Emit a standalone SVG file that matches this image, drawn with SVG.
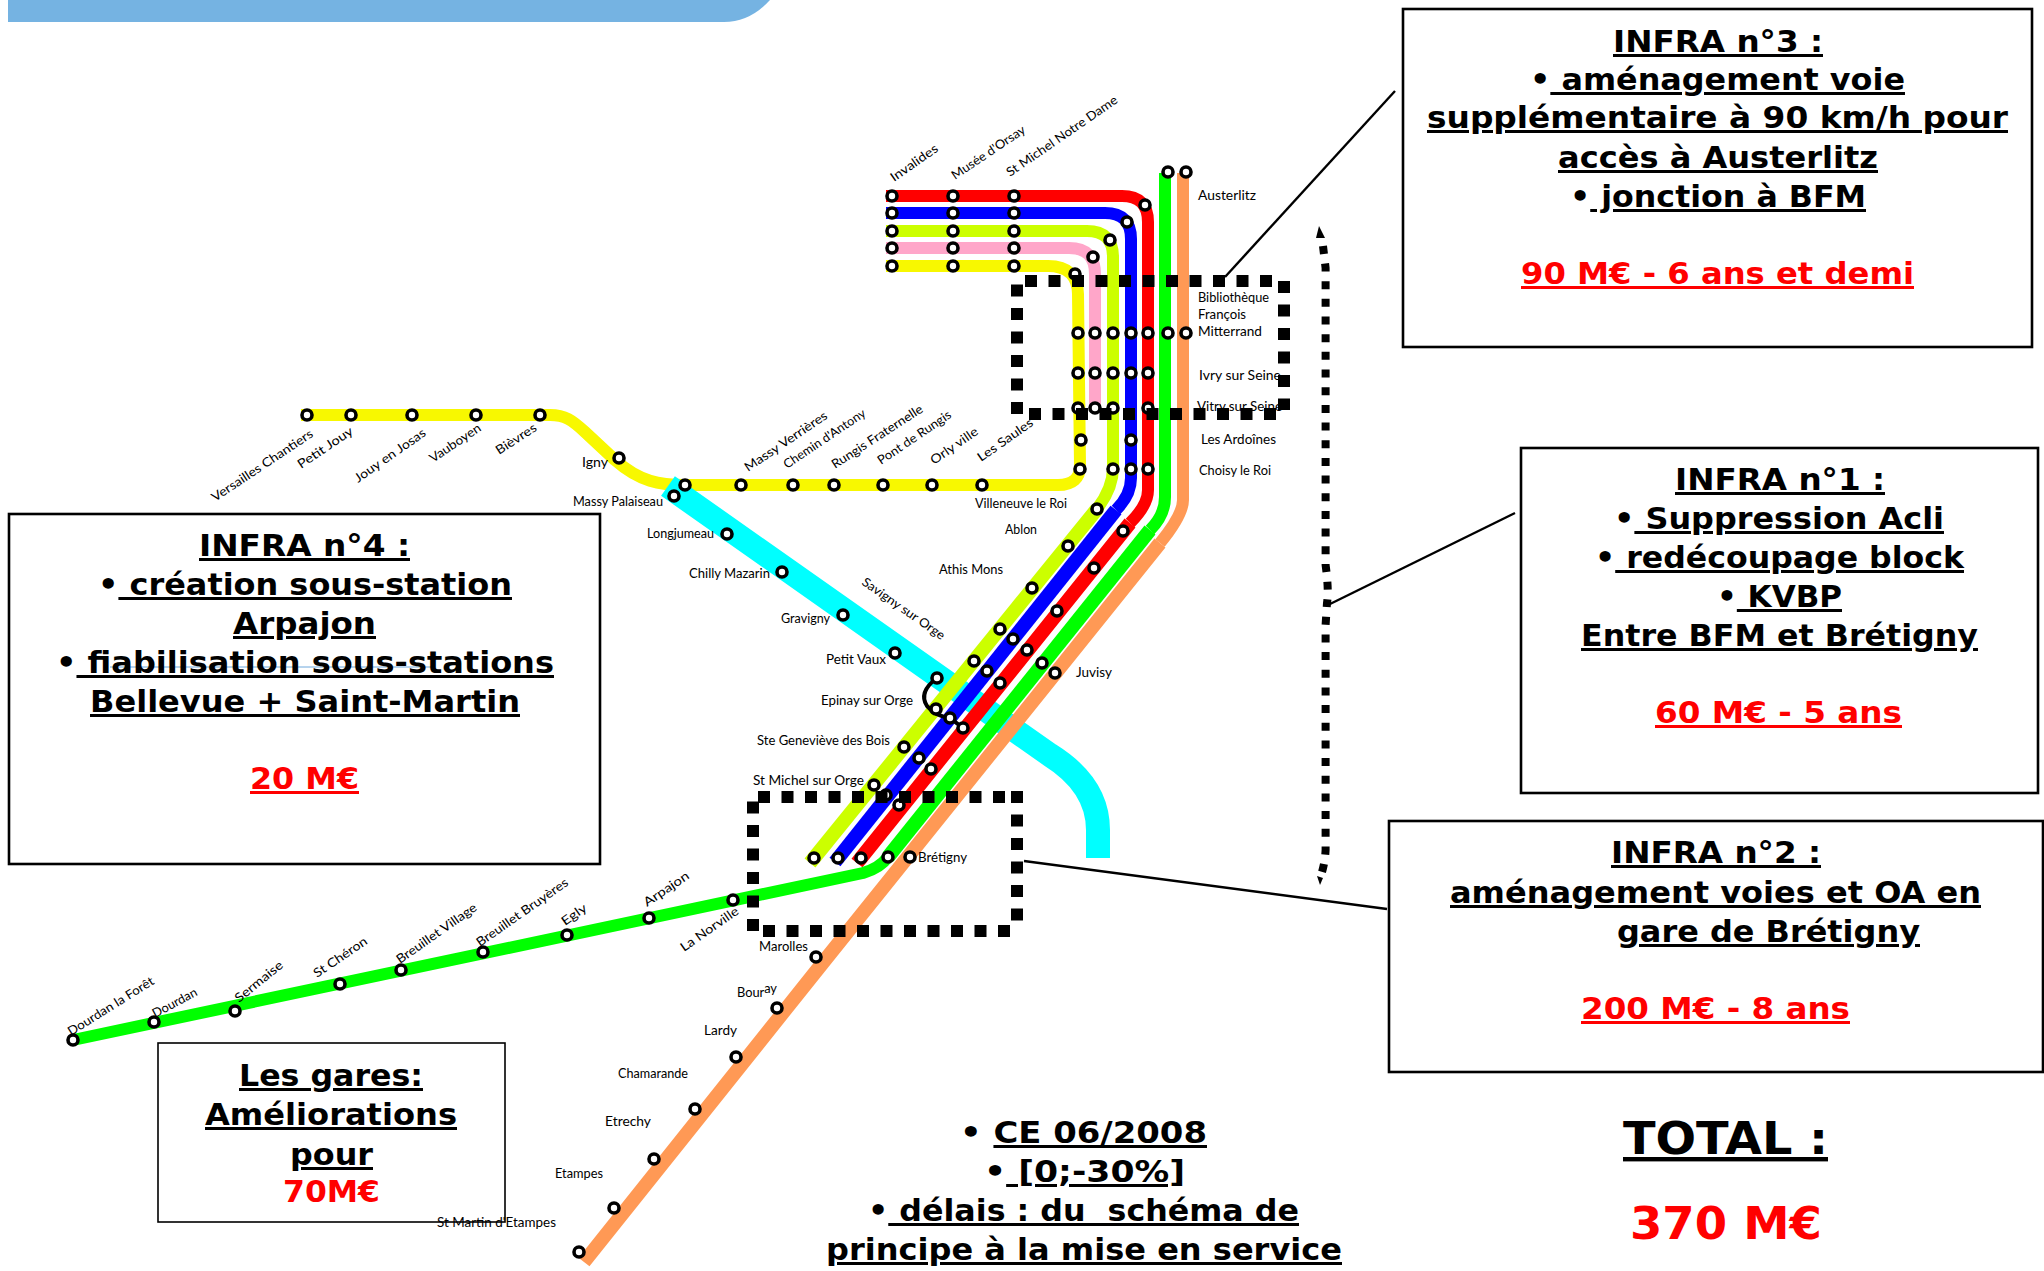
<svg xmlns="http://www.w3.org/2000/svg" width="2044" height="1271" viewBox="0 0 2044 1271">
<style>
.ln{fill:none;stroke-width:12;stroke-linejoin:round}
.dg{fill:none;stroke-width:14}
.dash{fill:none;stroke:#000;stroke-width:12;stroke-dasharray:12 11.5}
.lead{fill:none;stroke:#000;stroke-width:2.4}
.box{fill:none;stroke:#000;stroke-width:2.6}
.st{fill:#fff;stroke:#000;stroke-width:3.6}
.lab{font-family:"Lato","Open Sans",sans-serif;font-size:12.5px;fill:#000}
.t{font-family:"DejaVu Sans","Liberation Sans",sans-serif;font-weight:bold;font-size:30px;fill:#000;white-space:pre}
.r{fill:#f00}
.big{font-size:44px}
.u{text-decoration:underline}
</style>
<rect width="2044" height="1271" fill="#fff"/>
<path id="banner" d="M8,0H770Q750,22 724,22H8Z" fill="#75b3e2"/>

<g id="connectors">
<path class="ln" stroke="#f8f800" d="M301,415L550,415C565,415 572,420 585,432L615,460C640,482 660,485 685,485L1058,485C1073,485 1080,478 1080,466L1078,294C1078,276 1068,266 1048,266L886,266"/>
<path class="ln" stroke="#ffa6c9" d="M886,248L1069,248Q1095,248 1095,274L1095,405"/>
<path id="line-cyan" fill="none" stroke="#0ff" stroke-width="24" d="M668,486L1050,755Q1098,785 1098,830L1098,858"/>
<path class="ln" stroke="#ccff00" d="M886,231L1087,231Q1113,231 1113,257L1113,468Q1113,488 1097,509"/>
<path class="dg" stroke="#ccff00" d="M1097,509L810,863"/>
<path class="ln" stroke="#00f" d="M886,213L1105,213Q1131,213 1131,239L1131,478Q1131,495 1116,510"/>
<path class="dg" stroke="#00f" d="M1116,510L835,862"/>
<path class="ln" stroke="#f00" d="M886,196L1122,196Q1148,196 1148,222L1148,490Q1148,505 1130,523"/>
<path class="dg" stroke="#f00" d="M1130,523L861,858L857,863"/>
<path class="ln" stroke="#0f0" d="M1165,173L1165,497Q1165,515 1150,530"/>
<path class="dg" stroke="#0f0" d="M1150,530L888,857"/>
<path class="ln" stroke="#0f0" d="M888,857Q880,868 863,873L73,1040"/>
<path class="ln" stroke="#ff9955" d="M1183,173L1183,500Q1183,515 1160,543"/>
<path class="dg" stroke="#ff9955" d="M1160,543L825,960L584,1262"/>
<path fill="none" stroke="#000" stroke-width="4" d="M937,678Q918,692 927,706Q935,716 950,718L963,728"/>
<path class="lead" d="M1225,277L1395,91"/>
<path class="lead" d="M1515,513L1328,605"/>
<path class="lead" d="M1024,861L1387,909"/>
</g>

<g id="stations">
<g id="st-invalides"><circle class="st" cx="892" cy="196" r="5"/><circle class="st" cx="892" cy="213" r="5"/><circle class="st" cx="892" cy="231" r="5"/><circle class="st" cx="892" cy="248" r="5"/><circle class="st" cx="892" cy="266" r="5"/><text class="lab" transform="translate(894,182) rotate(-35)" textLength="55" lengthAdjust="spacingAndGlyphs">Invalides</text></g>
<g id="st-orsay"><circle class="st" cx="953" cy="196" r="5"/><circle class="st" cx="953" cy="213" r="5"/><circle class="st" cx="953" cy="231" r="5"/><circle class="st" cx="953" cy="248" r="5"/><circle class="st" cx="953" cy="266" r="5"/><text class="lab" transform="translate(955,180) rotate(-34)" textLength="86" lengthAdjust="spacingAndGlyphs">Musée d'Orsay</text></g>
<g id="st-stmichel"><circle class="st" cx="1014" cy="196" r="5"/><circle class="st" cx="1014" cy="213" r="5"/><circle class="st" cx="1014" cy="231" r="5"/><circle class="st" cx="1014" cy="248" r="5"/><circle class="st" cx="1014" cy="266" r="5"/><text class="lab" transform="translate(1010,177) rotate(-34.6)" textLength="132" lengthAdjust="spacingAndGlyphs">St Michel Notre Dame</text></g>
<g id="st-corners"><circle class="st" cx="1145" cy="205" r="5"/><circle class="st" cx="1127" cy="222" r="5"/><circle class="st" cx="1110" cy="240" r="5"/><circle class="st" cx="1093" cy="257" r="5"/><circle class="st" cx="1075" cy="274" r="5"/></g>
<g id="st-austerlitz"><circle class="st" cx="1168" cy="172" r="5"/><circle class="st" cx="1186" cy="172" r="5"/><text class="lab" x="1198" y="200" textLength="58" lengthAdjust="spacingAndGlyphs">Austerlitz</text></g>
<g id="st-bfm"><circle class="st" cx="1078" cy="333" r="5"/><circle class="st" cx="1095" cy="333" r="5"/><circle class="st" cx="1113" cy="333" r="5"/><circle class="st" cx="1131" cy="333" r="5"/><circle class="st" cx="1148" cy="333" r="5"/><circle class="st" cx="1168" cy="333" r="5"/><circle class="st" cx="1186" cy="333" r="5"/><text class="lab" x="1198" y="302" textLength="71" lengthAdjust="spacingAndGlyphs">Bibliothèque</text><text class="lab" x="1198" y="319" textLength="48" lengthAdjust="spacingAndGlyphs">François</text><text class="lab" x="1198" y="336" textLength="64" lengthAdjust="spacingAndGlyphs">Mitterrand</text></g>
<g id="st-ivry"><circle class="st" cx="1078" cy="373" r="5"/><circle class="st" cx="1095" cy="373" r="5"/><circle class="st" cx="1113" cy="373" r="5"/><circle class="st" cx="1131" cy="373" r="5"/><circle class="st" cx="1148" cy="373" r="5"/><text class="lab" x="1199" y="380" textLength="82" lengthAdjust="spacingAndGlyphs">Ivry sur Seine</text></g>
<g id="st-vitry"><circle class="st" cx="1078" cy="408" r="5"/><circle class="st" cx="1095" cy="408" r="5"/><circle class="st" cx="1113" cy="408" r="5"/><circle class="st" cx="1148" cy="408" r="5"/><text class="lab" x="1197" y="411" textLength="85" lengthAdjust="spacingAndGlyphs">Vitry sur Seine</text></g>
<g id="st-ardoines"><circle class="st" cx="1081" cy="440" r="5"/><circle class="st" cx="1131" cy="440" r="5"/><text class="lab" x="1201" y="444" textLength="75" lengthAdjust="spacingAndGlyphs">Les Ardoînes</text></g>
<g id="st-choisy"><circle class="st" cx="1080" cy="469" r="5"/><circle class="st" cx="1113" cy="469" r="5"/><circle class="st" cx="1131" cy="469" r="5"/><circle class="st" cx="1148" cy="469" r="5"/><text class="lab" x="1199" y="475" textLength="72" lengthAdjust="spacingAndGlyphs">Choisy le Roi</text></g>
<g id="st-saules"><circle class="st" cx="982" cy="485" r="5"/><text class="lab" transform="translate(981,462) rotate(-35)" textLength="65" lengthAdjust="spacingAndGlyphs">Les Saules</text></g>
<g id="st-orly"><circle class="st" cx="932" cy="485" r="5"/><text class="lab" transform="translate(934,465) rotate(-35)" textLength="55" lengthAdjust="spacingAndGlyphs">Orly ville</text></g>
<g id="st-rungis"><circle class="st" cx="883" cy="485" r="5"/><text class="lab" transform="translate(881,465) rotate(-34)" textLength="86" lengthAdjust="spacingAndGlyphs">Pont de Rungis</text></g>
<g id="st-fraternelle"><circle class="st" cx="834" cy="485" r="5"/><text class="lab" transform="translate(835,469) rotate(-33)" textLength="106" lengthAdjust="spacingAndGlyphs">Rungis Fraternelle</text></g>
<g id="st-antony"><circle class="st" cx="793" cy="485" r="5"/><text class="lab" transform="translate(787,469) rotate(-34)" textLength="96" lengthAdjust="spacingAndGlyphs">Chemin d'Antony</text></g>
<g id="st-verrieres"><circle class="st" cx="741" cy="485" r="5"/><text class="lab" transform="translate(748,472) rotate(-34)" textLength="97" lengthAdjust="spacingAndGlyphs">Massy Verrières</text></g>
<g id="st-massy"><circle class="st" cx="685" cy="485" r="5"/><circle class="st" cx="674" cy="496" r="5"/><text class="lab" x="573" y="506" textLength="90" lengthAdjust="spacingAndGlyphs">Massy Palaiseau</text></g>
<g id="st-igny"><circle class="st" cx="619" cy="458" r="5"/><text class="lab" x="582" y="467" textLength="26" lengthAdjust="spacingAndGlyphs">Igny</text></g>
<g id="st-versailles"><circle class="st" cx="307" cy="415" r="5"/><text class="lab" transform="translate(215,502) rotate(-33.7)" textLength="119" lengthAdjust="spacingAndGlyphs">Versailles Chantiers</text></g>
<g id="st-petitjouy"><circle class="st" cx="351" cy="415" r="5"/><text class="lab" transform="translate(301,469) rotate(-34)" textLength="64" lengthAdjust="spacingAndGlyphs">Petit Jouy</text></g>
<g id="st-jouy"><circle class="st" cx="412" cy="415" r="5"/><text class="lab" transform="translate(358,483) rotate(-35)" textLength="84" lengthAdjust="spacingAndGlyphs">Jouy en Josas</text></g>
<g id="st-vauboyen"><circle class="st" cx="476" cy="415" r="5"/><text class="lab" transform="translate(433,463) rotate(-34)" textLength="59" lengthAdjust="spacingAndGlyphs">Vauboyen</text></g>
<g id="st-bievres"><circle class="st" cx="540" cy="415" r="5"/><text class="lab" transform="translate(499,455) rotate(-33)" textLength="46" lengthAdjust="spacingAndGlyphs">Bièvres</text></g>
<g id="st-longjumeau"><circle class="st" cx="727" cy="534" r="5"/><text class="lab" x="647" y="538" textLength="67" lengthAdjust="spacingAndGlyphs">Longjumeau</text></g>
<g id="st-chilly"><circle class="st" cx="782" cy="572" r="5"/><text class="lab" x="689" y="578" textLength="81" lengthAdjust="spacingAndGlyphs">Chilly Mazarin</text></g>
<g id="st-gravigny"><circle class="st" cx="843" cy="615" r="5"/><text class="lab" x="781" y="623" textLength="49" lengthAdjust="spacingAndGlyphs">Gravigny</text></g>
<g id="st-petitvaux"><circle class="st" cx="895" cy="653" r="5"/><text class="lab" x="826" y="664" textLength="60" lengthAdjust="spacingAndGlyphs">Petit Vaux</text></g>
<g id="st-savigny"><circle class="st" cx="937" cy="678" r="5"/><text class="lab" transform="translate(861,584) rotate(35)" textLength="98" lengthAdjust="spacingAndGlyphs">Savigny sur Orge</text></g>
<g id="st-villeneuve"><circle class="st" cx="1097" cy="509" r="5"/><text class="lab" x="975" y="508" textLength="92" lengthAdjust="spacingAndGlyphs">Villeneuve le Roi</text></g>
<g id="st-ablon"><circle class="st" cx="1068" cy="546" r="5"/><circle class="st" cx="1123" cy="531" r="5"/><text class="lab" x="1005" y="534" textLength="32" lengthAdjust="spacingAndGlyphs">Ablon</text></g>
<g id="st-athis"><circle class="st" cx="1032" cy="588" r="5"/><circle class="st" cx="1094" cy="568" r="5"/><text class="lab" x="939" y="574" textLength="64" lengthAdjust="spacingAndGlyphs">Athis Mons</text></g>
<g id="st-juvisy"><circle class="st" cx="1000" cy="629" r="5"/><circle class="st" cx="974" cy="661" r="5"/><circle class="st" cx="1013" cy="639" r="5"/><circle class="st" cx="987" cy="671" r="5"/><circle class="st" cx="1057" cy="611" r="5"/><circle class="st" cx="1027" cy="650" r="5"/><circle class="st" cx="1000" cy="683" r="5"/><circle class="st" cx="1042" cy="663" r="5"/><circle class="st" cx="1055" cy="673" r="5"/><text class="lab" x="1076" y="677" textLength="36" lengthAdjust="spacingAndGlyphs">Juvisy</text></g>
<g id="st-epinay"><circle class="st" cx="936" cy="709" r="5"/><circle class="st" cx="950" cy="718" r="5"/><circle class="st" cx="963" cy="728" r="5"/><text class="lab" x="821" y="705" textLength="92" lengthAdjust="spacingAndGlyphs">Epinay sur Orge</text></g>
<g id="st-genevieve"><circle class="st" cx="904" cy="747" r="5"/><circle class="st" cx="919" cy="758" r="5"/><circle class="st" cx="931" cy="769" r="5"/><text class="lab" x="757" y="745" textLength="133" lengthAdjust="spacingAndGlyphs">Ste Geneviève des Bois</text></g>
<g id="st-stmichelorge"><circle class="st" cx="874" cy="785" r="5"/><circle class="st" cx="886" cy="795" r="5"/><circle class="st" cx="899" cy="805" r="5"/><text class="lab" x="753" y="785" textLength="111" lengthAdjust="spacingAndGlyphs">St Michel sur Orge</text></g>
<g id="st-bretigny"><circle class="st" cx="814" cy="858" r="5"/><circle class="st" cx="838" cy="858" r="5"/><circle class="st" cx="861" cy="858" r="5"/><circle class="st" cx="888" cy="857" r="5"/><circle class="st" cx="910" cy="857" r="5"/><text class="lab" x="918" y="862" textLength="49" lengthAdjust="spacingAndGlyphs">Brétigny</text></g>
<g id="st-marolles"><circle class="st" cx="816" cy="957" r="5"/><text class="lab" x="759" y="951" textLength="49" lengthAdjust="spacingAndGlyphs">Marolles</text></g>
<g id="st-bouray"><circle class="st" cx="777" cy="1008" r="5"/><text class="lab" x="737" y="997" textLength="40" lengthAdjust="spacingAndGlyphs">Bour<tspan dy="-4">ay</tspan></text></g>
<g id="st-lardy"><circle class="st" cx="736" cy="1057" r="5"/><text class="lab" x="704" y="1035" textLength="33" lengthAdjust="spacingAndGlyphs">Lardy</text></g>
<g id="st-chamarande"><circle class="st" cx="695" cy="1109" r="5"/><text class="lab" x="618" y="1078" textLength="70" lengthAdjust="spacingAndGlyphs">Chamarande</text></g>
<g id="st-etrechy"><circle class="st" cx="654" cy="1159" r="5"/><text class="lab" x="605" y="1126" textLength="46" lengthAdjust="spacingAndGlyphs">Etrechy</text></g>
<g id="st-etampes"><circle class="st" cx="614" cy="1208" r="5"/><text class="lab" x="555" y="1178" textLength="48" lengthAdjust="spacingAndGlyphs">Etampes</text></g>
<g id="st-stmartin"><circle class="st" cx="579" cy="1252" r="5"/><text class="lab" x="437" y="1227" textLength="119" lengthAdjust="spacingAndGlyphs">St Martin d'Etampes</text></g>
<g id="st-dourdanforet"><circle class="st" cx="73" cy="1040" r="5"/><text class="lab" transform="translate(71,1036) rotate(-32)" textLength="99" lengthAdjust="spacingAndGlyphs">Dourdan la Forêt</text></g>
<g id="st-dourdan"><circle class="st" cx="154" cy="1022" r="5"/><text class="lab" transform="translate(155,1018) rotate(-28)" textLength="49" lengthAdjust="spacingAndGlyphs">Dourdan</text></g>
<g id="st-sermaise"><circle class="st" cx="235" cy="1011" r="5"/><text class="lab" transform="translate(239,1003) rotate(-39)" textLength="58" lengthAdjust="spacingAndGlyphs">Sermaise</text></g>
<g id="st-cheron"><circle class="st" cx="340" cy="984" r="5"/><text class="lab" transform="translate(317,978) rotate(-34)" textLength="62" lengthAdjust="spacingAndGlyphs">St Chéron</text></g>
<g id="st-village"><circle class="st" cx="401" cy="970" r="5"/><text class="lab" transform="translate(400,964) rotate(-35)" textLength="95" lengthAdjust="spacingAndGlyphs">Breuillet Village</text></g>
<g id="st-bruyeres"><circle class="st" cx="483" cy="952" r="5"/><text class="lab" transform="translate(480,947) rotate(-35)" textLength="109" lengthAdjust="spacingAndGlyphs">Breuillet Bruyères</text></g>
<g id="st-egly"><circle class="st" cx="567" cy="935" r="5"/><text class="lab" transform="translate(565,926) rotate(-35)" textLength="28" lengthAdjust="spacingAndGlyphs">Egly</text></g>
<g id="st-arpajon"><circle class="st" cx="649" cy="918" r="5"/><text class="lab" transform="translate(647,907) rotate(-34)" textLength="52" lengthAdjust="spacingAndGlyphs">Arpajon</text></g>
<g id="st-norville"><circle class="st" cx="733" cy="900" r="5"/><text class="lab" transform="translate(684,952) rotate(-35)" textLength="68" lengthAdjust="spacingAndGlyphs">La Norville</text></g>
</g>

<g id="zone-bfm"><path class="dash" d="M1025,281H1272"/><path class="dash" d="M1017,414V284"/><path class="dash" d="M1284,281V410"/><path class="dash" d="M1029,414H1276"/></g>
<g id="zone-bretigny"><path class="dash" d="M758,797H1005"/><path class="dash" d="M1017,791V927"/><path class="dash" d="M753,931V795"/><path class="dash" d="M763,931H1010"/></g>
<g id="brace"><path fill="none" stroke="#000" stroke-width="8" stroke-dasharray="8 9.67" d="M1323,246L1325.6,268L1325.6,565Q1329,590 1327,603L1325.6,625L1325.6,850Q1325,862 1322,872"/><path d="M1319,226L1325,238L1316,238Z"/><path d="M1317,876L1323,878L1320,885Z"/></g>

<g id="infra3"><rect class="box" x="1403" y="9" width="629" height="338"/>
<text class="t" x="1613" y="52" textLength="210" lengthAdjust="spacingAndGlyphs"><tspan class="u">INFRA n°3 :</tspan></text>
<text class="t" x="1530" y="90" textLength="375" lengthAdjust="spacingAndGlyphs">•<tspan class="u"> aménagement voie</tspan></text>
<text class="t" x="1427" y="128" textLength="581" lengthAdjust="spacingAndGlyphs"><tspan class="u">supplémentaire à 90 km/h pour</tspan></text>
<text class="t" x="1558" y="168" textLength="320" lengthAdjust="spacingAndGlyphs"><tspan class="u">accès à Austerlitz</tspan></text>
<text class="t" x="1570" y="207" textLength="296" lengthAdjust="spacingAndGlyphs">•<tspan class="u"> jonction à BFM</tspan></text>
<text class="t r" x="1521" y="284" textLength="393" lengthAdjust="spacingAndGlyphs"><tspan class="u">90 M€ - 6 ans et demi</tspan></text></g>

<g id="infra1"><rect class="box" x="1521" y="448" width="517" height="345"/>
<text class="t" x="1675" y="490" textLength="210" lengthAdjust="spacingAndGlyphs"><tspan class="u">INFRA n°1 :</tspan></text>
<text class="t" x="1614" y="529" textLength="330" lengthAdjust="spacingAndGlyphs">•<tspan class="u"> Suppression Acli</tspan></text>
<text class="t" x="1595" y="568" textLength="369" lengthAdjust="spacingAndGlyphs">•<tspan class="u"> redécoupage block</tspan></text>
<text class="t" x="1717" y="607" textLength="125" lengthAdjust="spacingAndGlyphs">•<tspan class="u"> KVBP</tspan></text>
<text class="t" x="1581" y="646" textLength="397" lengthAdjust="spacingAndGlyphs"><tspan class="u">Entre BFM et Brétigny</tspan></text>
<text class="t r" x="1655" y="723" textLength="247" lengthAdjust="spacingAndGlyphs"><tspan class="u">60 M€ - 5 ans</tspan></text></g>

<g id="infra2"><rect class="box" x="1389" y="821" width="654" height="251"/>
<text class="t" x="1611" y="863" textLength="210" lengthAdjust="spacingAndGlyphs"><tspan class="u">INFRA n°2 :</tspan></text>
<text class="t" x="1450" y="903" textLength="531" lengthAdjust="spacingAndGlyphs"><tspan class="u">aménagement voies et OA en</tspan></text>
<text class="t" x="1617" y="942" textLength="303" lengthAdjust="spacingAndGlyphs"><tspan class="u">gare de Brétigny</tspan></text>
<text class="t r" x="1581" y="1019" textLength="269" lengthAdjust="spacingAndGlyphs"><tspan class="u">200 M€ - 8 ans</tspan></text></g>

<g id="infra4"><rect class="box" x="9" y="514" width="591" height="350"/>
<text class="t" x="199" y="556" textLength="211" lengthAdjust="spacingAndGlyphs"><tspan class="u">INFRA n°4 :</tspan></text>
<text class="t" x="98" y="595" textLength="414" lengthAdjust="spacingAndGlyphs">•<tspan class="u"> création sous-station</tspan></text>
<text class="t" x="233" y="634" textLength="143" lengthAdjust="spacingAndGlyphs"><tspan class="u">Arpajon</tspan></text>
<path d="M110,667H435" stroke="#6fa8dc" stroke-width="1" fill="none"/>
<text class="t" x="56" y="673" textLength="498" lengthAdjust="spacingAndGlyphs">•<tspan class="u"> fiabilisation sous-stations</tspan></text>
<text class="t" x="90" y="712" textLength="430" lengthAdjust="spacingAndGlyphs"><tspan class="u">Bellevue + Saint-Martin</tspan></text>
<text class="t r" x="250" y="789" textLength="109" lengthAdjust="spacingAndGlyphs"><tspan class="u">20 M€</tspan></text></g>

<g id="gares"><rect x="158" y="1043" width="347" height="179" fill="none" stroke="#000" stroke-width="1.6"/>
<text class="t" x="239" y="1086" textLength="184" lengthAdjust="spacingAndGlyphs"><tspan class="u">Les gares:</tspan></text>
<text class="t" x="205" y="1125" textLength="252" lengthAdjust="spacingAndGlyphs"><tspan class="u">Améliorations</tspan></text>
<text class="t" x="290" y="1165" textLength="83" lengthAdjust="spacingAndGlyphs"><tspan class="u">pour</tspan></text>
<text class="t r" x="283" y="1202" textLength="97" lengthAdjust="spacingAndGlyphs">70M€</text></g>

<g id="notes">
<text class="t" x="960" y="1143" textLength="247" lengthAdjust="spacingAndGlyphs">• <tspan class="u">CE 06/2008</tspan></text>
<text class="t" x="984" y="1182" textLength="201" lengthAdjust="spacingAndGlyphs">•<tspan class="u"> [0;-30%]</tspan></text>
<text class="t" x="868" y="1221" textLength="431" lengthAdjust="spacingAndGlyphs">•<tspan class="u"> délais : du  schéma de</tspan></text>
<text class="t" x="826" y="1260" textLength="516" lengthAdjust="spacingAndGlyphs"><tspan class="u">principe à la mise en service</tspan></text>
</g>

<g id="total">
<text class="t big" x="1623" y="1154" textLength="205" lengthAdjust="spacingAndGlyphs"><tspan class="u">TOTAL :</tspan></text>
<text class="t big r" x="1630" y="1239" textLength="192" lengthAdjust="spacingAndGlyphs">370 M€</text>
</g>
</svg>
